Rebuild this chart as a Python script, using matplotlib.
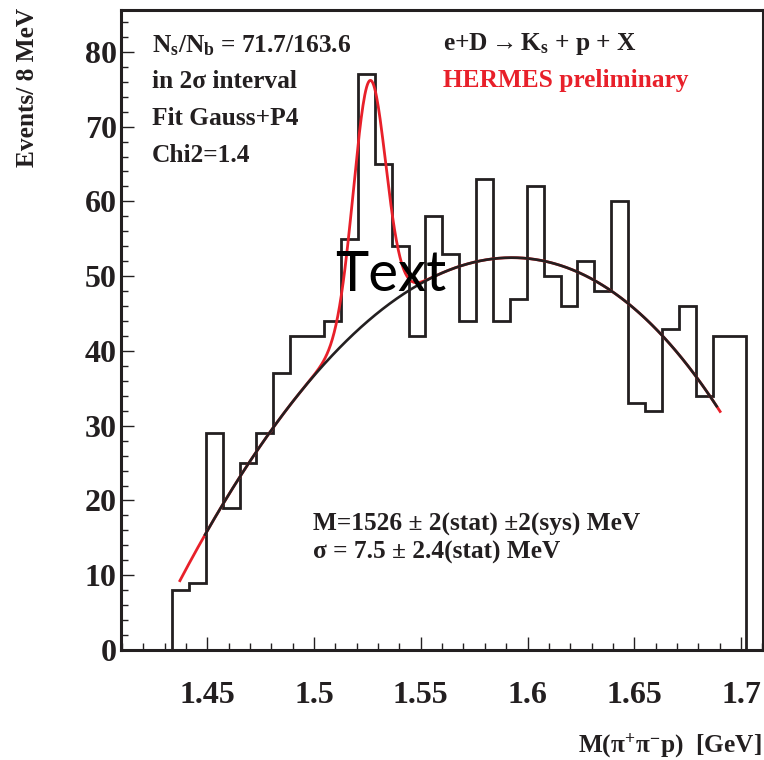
import numpy as np
import matplotlib.pyplot as plt
from matplotlib.ticker import MultipleLocator

plt.rcParams['font.family'] = 'Liberation Serif'
plt.rcParams['font.weight'] = 'bold'
plt.rcParams['mathtext.fontset'] = 'custom'
plt.rcParams['mathtext.rm'] = 'Liberation Serif:bold'
plt.rcParams['mathtext.it'] = 'Liberation Serif:bold'
plt.rcParams['mathtext.bf'] = 'Liberation Serif:bold'
plt.rcParams['mathtext.default'] = 'regular'

INK = '#231f20'
RED = '#e8202a'

# histogram: M(pi+ pi- p), bins of ~8 MeV
edge_lo, edge_hi = 1.4335, 1.7025
counts = [8, 9, 29, 19, 25, 29, 37, 42, 42, 44, 55, 77, 65, 54, 42, 58, 53,
          44, 63, 44, 47, 62, 50, 46, 52, 48, 60, 33, 32, 43, 46, 34, 42, 42]

# points along the P4 background curve
bg_x = [1.4372, 1.4500, 1.4575, 1.4732, 1.4810, 1.4998, 1.5107, 1.5200,
        1.5307, 1.5372, 1.5637, 1.5933, 1.6200, 1.6464, 1.6620, 1.6776,
        1.6902]
bg_y = [9.4, 16.1, 19.2, 26.8, 29.4, 36.6, 40.1, 43.0,
        45.5, 46.6, 50.8, 52.4, 50.6, 46.4, 43.3, 36.6,
        31.9]

# Gaussian peak parameters
M_peak = 1.526      # GeV
sigma = 0.0075      # GeV
N_s = 71.7
N_b = 163.6
bin_w = 0.008       # GeV

xtick_vals = [1.45, 1.50, 1.55, 1.60, 1.65, 1.70]
xtick_labels = ['1.45', '1.5', '1.55', '1.6', '1.65', '1.7']
ytick_vals = [0, 10, 20, 30, 40, 50, 60, 70, 80]

fig = plt.figure(figsize=(7.64, 7.60), dpi=100)
ax = fig.add_axes([121 / 764, 1 - 650 / 760, 642 / 764, 640 / 760])

edges = np.linspace(edge_lo, edge_hi, len(counts) + 1)
ax.stairs(counts, edges, color=INK, lw=2.0, baseline=0)

# fit: P4 background + gaussian (amplitude from N_s in the 2 sigma window)
p4 = np.polyfit(bg_x, bg_y, 4)
amp = N_s * bin_w / (sigma * np.sqrt(2 * np.pi) * 0.9545)
xf = np.linspace(1.4372, 1.6902, 600)
total = np.polyval(p4, xf) + amp * np.exp(-0.5 * ((xf - M_peak) / sigma) ** 2)
ax.plot(xf, total, color=RED, lw=2.0, zorder=3)
xb = np.linspace(1.4490, 1.6886, 500)
ax.plot(xb, np.polyval(p4, xb), color=INK, lw=1.9, zorder=4)

ax.set_xlim(1.4096, 1.7103)
ax.set_ylim(0, 85.6)
ax.set_xticks(xtick_vals)
ax.set_xticklabels(xtick_labels)
ax.set_yticks(ytick_vals)
ax.xaxis.set_minor_locator(MultipleLocator(0.01))
ax.yaxis.set_minor_locator(MultipleLocator(2))
ax.tick_params(which='both', direction='in', top=False, right=False,
               width=1.0, color=INK, labelcolor=INK)
ax.tick_params(which='major', length=9.5)
ax.tick_params(which='minor', length=5)
ax.tick_params(axis='x', which='major', labelsize=23, pad=22)
ax.tick_params(axis='y', which='major', labelsize=23, pad=3)
for s in ax.spines.values():
    s.set_linewidth(2.2)
    s.set_color(INK)


def ftext(x, y, s, **kw):
    kw.setdefault('fontsize', 18.3)
    kw.setdefault('color', INK)
    kw.setdefault('va', 'baseline')
    fig.text(x / 764, 1 - y / 760, s, **kw)


ftext(152, 52, 'N$_{s}$/N$_{b}$ = %.1f/%.1f' % (N_s, N_b))
ftext(152, 88, 'in 2σ interval')
ftext(152, 125, 'Fit Gauss+P4')
ftext(152, 162, 'Chi2=1.4')
ftext(443, 50, r'e+D$\rightarrow$K$_{s}$ + p + X')
ftext(443, 87, 'HERMES preliminary', color=RED)
ftext(313, 531, 'M=%d ± 2(stat) ±2(sys) MeV' % round(M_peak * 1000))
ftext(313, 559, 'σ = %.1f ± 2.4(stat) MeV' % (sigma * 1000))

ftext(28, 87, 'Events/ 8 MeV', rotation=90, ha='center', va='center')
ftext(762, 752, 'M(π$^{+}$π$^{-}$p)  [GeV]', ha='right')

fig.text(391 / 764, 1 - 291 / 760, 'Text', family='Lato', fontsize=40.5,
         weight='normal', color='black', ha='center', va='baseline', zorder=10)

fig.savefig('out.png', dpi=100)
